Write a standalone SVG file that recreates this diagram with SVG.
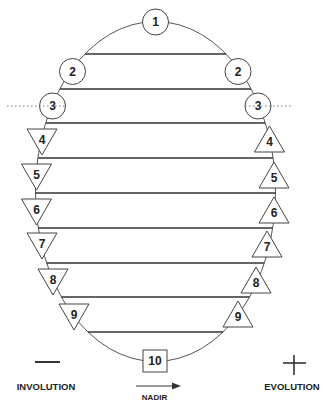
<svg xmlns="http://www.w3.org/2000/svg" width="324" height="402" viewBox="0 0 324 402">
<style>
.shape{fill:#fff;stroke:#444;stroke-width:1}
.lvl{stroke:#333;stroke-width:1.6}
.num{font-family:"Liberation Sans",Arial,sans-serif;font-weight:bold;font-size:12px;fill:#222;text-anchor:middle;dominant-baseline:central}
.lab{font-family:"Liberation Sans",Arial,sans-serif;font-weight:bold;fill:#222;text-anchor:middle;dominant-baseline:central}
.dot{stroke:#777;stroke-width:1;stroke-dasharray:1.5 2.5}
</style>
<rect width="324" height="402" fill="#fff"/>
<g id="connectors">
<ellipse cx="155.5" cy="191.5" rx="120" ry="170" fill="none" stroke="#555" stroke-width="1"/>
<line class="lvl" x1="85" y1="54" x2="226" y2="54"/>
<line class="lvl" x1="60" y1="89" x2="251" y2="89"/>
<line class="lvl" x1="46" y1="123" x2="265" y2="123"/>
<line class="lvl" x1="38" y1="158" x2="273" y2="158"/>
<line class="lvl" x1="35.5" y1="193" x2="275.5" y2="193"/>
<line class="lvl" x1="38.3" y1="228" x2="272.7" y2="228"/>
<line class="lvl" x1="46.6" y1="263" x2="264.4" y2="263"/>
<line class="lvl" x1="61.4" y1="297" x2="249.6" y2="297"/>
<line class="lvl" x1="88" y1="332" x2="223" y2="332"/>
</g>
<g id="n1"><circle class="shape" cx="155.5" cy="22" r="13"/><text class="num" x="155.5" y="22">1</text></g>
<g id="n2L"><circle class="shape" cx="72.5" cy="71.5" r="13"/><text class="num" x="72.5" y="71.5">2</text></g>
<g id="n2R"><circle class="shape" cx="238" cy="71.5" r="13"/><text class="num" x="238" y="71.5">2</text></g>
<g id="n3L"><circle class="shape" cx="52.5" cy="106" r="13"/><text class="num" x="52.5" y="106">3</text></g>
<g id="n3R"><circle class="shape" cx="258" cy="106" r="13"/><text class="num" x="258" y="106">3</text></g>
<g id="horizon">
<line class="dot" x1="7" y1="106" x2="66" y2="106"/>
<line class="dot" x1="245" y1="106" x2="292" y2="106"/>
</g>
<g id="n4L"><polygon class="shape" points="27,129 57,129 42,155"/><text class="num" x="42" y="140">4</text></g>
<g id="n5L"><polygon class="shape" points="21.5,164 51.5,164 36.5,190"/><text class="num" x="36.5" y="175">5</text></g>
<g id="n6L"><polygon class="shape" points="21.5,199 51.5,199 36.5,225"/><text class="num" x="36.5" y="210">6</text></g>
<g id="n7L"><polygon class="shape" points="27,233 57,233 42,259"/><text class="num" x="42" y="244">7</text></g>
<g id="n8L"><polygon class="shape" points="38,269 68,269 53,295"/><text class="num" x="53" y="280">8</text></g>
<g id="n9L"><polygon class="shape" points="59,304 89,304 74,330"/><text class="num" x="74" y="315">9</text></g>
<g id="n4R"><polygon class="shape" points="269.5,126 284.5,152 254.5,152"/><text class="num" x="269.5" y="142">4</text></g>
<g id="n5R"><polygon class="shape" points="274,162 289,188 259,188"/><text class="num" x="274" y="178">5</text></g>
<g id="n6R"><polygon class="shape" points="274,197 289,223 259,223"/><text class="num" x="274" y="213">6</text></g>
<g id="n7R"><polygon class="shape" points="267,231 282,257 252,257"/><text class="num" x="267" y="247">7</text></g>
<g id="n8R"><polygon class="shape" points="256,267 271,293 241,293"/><text class="num" x="256" y="283">8</text></g>
<g id="n9R"><polygon class="shape" points="238,301 253,327 223,327"/><text class="num" x="238" y="317">9</text></g>
<g id="n10"><rect class="shape" x="143" y="350" width="24" height="22"/><text class="num" x="155" y="361">10</text></g>
<g id="legend">
<line x1="35" y1="362" x2="60" y2="362" stroke="#333" stroke-width="2"/>
<text class="lab" x="46" y="386" font-size="9.5">INVOLUTION</text>
<line x1="294" y1="355" x2="294" y2="375" stroke="#333" stroke-width="1.6"/>
<line x1="283" y1="363" x2="306" y2="363" stroke="#333" stroke-width="1.6"/>
<text class="lab" x="292" y="386" font-size="9.5">EVOLUTION</text>
<line x1="136" y1="386" x2="173" y2="386" stroke="#333" stroke-width="1.2"/>
<polygon points="172,382.5 181,386 172,389.5" fill="#333"/>
<text class="lab" x="154.5" y="397" font-size="8">NADIR</text>
</g>
</svg>
